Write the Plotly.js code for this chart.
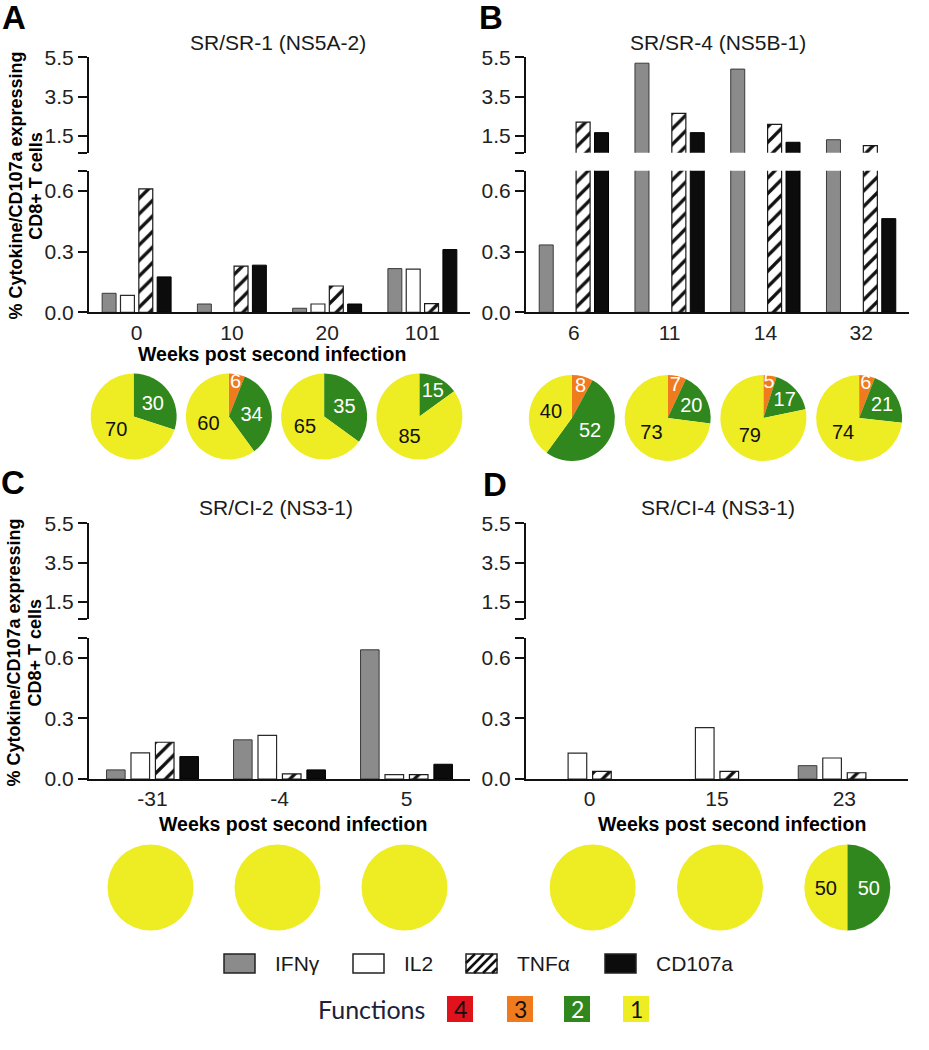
<!DOCTYPE html>
<html>
<head>
<meta charset="utf-8">
<script src="https://cdn.plot.ly/plotly-3.0.1.min.js"></script>
<style>
  body { margin: 0; background: #fff; }
  #chart { width: 929px; height: 1050px; }
</style>
</head>
<body>
<div id="chart"></div>
<script>
// bar series (% of CD8+ T cells), one value per time point
const markers = ["IFNγ", "IL2", "TNFα", "CD107a"];

const weeksA = ["0", "10", "20", "101"];
const ifngA = [0.094, 0.041, 0.020, 0.216];
const il2A = [0.084, 0, 0.041, 0.213];
const tnfaA = [0.61, 0.228, 0.13, 0.043];
const cd107aA = [0.175, 0.233, 0.041, 0.31];

const weeksB = ["6", "11", "14", "32"];
const ifngB = [0.333, 5.2, 4.9, 1.31];
const il2B = [0, 0, 0, 0];
const tnfaB = [2.2, 2.65, 2.09, 1.01];
const cd107aB = [1.67, 1.67, 1.18, 0.463];

const weeksC = ["-31", "-4", "5"];
const ifngC = [0.045, 0.194, 0.64];
const il2C = [0.129, 0.216, 0.022];
const tnfaC = [0.182, 0.025, 0.022];
const cd107aC = [0.111, 0.045, 0.073];

const weeksD = ["0", "15", "23"];
const ifngD = [0, 0, 0.066];
const il2D = [0.128, 0.255, 0.104];
const tnfaD = [0.038, 0.038, 0.031];
const cd107aD = [0, 0, 0];

// pies: % of responding cells with 4 / 3 / 2 / 1 functions
const functions = ["4", "3", "2", "1"];
const pieA = [[0, 0, 30, 70], [0, 6, 34, 60], [0, 0, 35, 65], [0, 0, 15, 85]];
const pieB = [[0, 8, 52, 40], [0, 7, 20, 73], [0, 5, 17, 79], [0, 6, 21, 74]];
const pieC = [[0, 0, 0, 100], [0, 0, 0, 100], [0, 0, 0, 100]];
const pieD = [[0, 0, 0, 100], [0, 0, 0, 100], [0, 0, 50, 50]];

const W = 929, H = 1050;
const fx = p => p / W;
const fy = p => 1 - p / H;
const FONT = "Arial, 'Liberation Sans', sans-serif";

const funcColors = ["#e0121c", "#f07a1e", "#2f871d", "#eeec22"];
const funcText = ["#111", "#fff", "#fff", "#111"];
const funcKeyText = ["#111", "#111", "#fff", "#111"];

const barStyles = [
  { color: "#8b8b8b", line: { color: "#3a3a3a", width: 1 } },
  { color: "#ffffff", line: { color: "#2a2a2a", width: 1.2 } },
  { color: "#ffffff", line: { color: "#1a1a1a", width: 1.2 },
    pattern: { shape: "/", fgcolor: "#111", bgcolor: "#fff", size: 11, solidity: 0.3 } },
  { color: "#0c0c0c", line: { color: "#000", width: 1 } }
];

const panels = [
  { letter: "A", title: "SR/SR-1 (NS5A-2)", weeks: weeksA, series: [ifngA, il2A, tnfaA, cd107aA], pies: pieA,
    x0: 89, x1: 470, top: 57.3, brk1: 152.7, brk2: 170.7, bottom: 312.3,
    titleXY: [278, 42.5], letterXY: [14, 18], pieY: 416.5, pieShift: -3,
    xTitle: [272, 354], yTitle: [15.5, 35.7, 186] },
  { letter: "B", title: "SR/SR-4 (NS5B-1)", weeks: weeksB, series: [ifngB, il2B, tnfaB, cd107aB], pies: pieB,
    x0: 526, x1: 909, top: 57.3, brk1: 152.7, brk2: 170.7, bottom: 312.3,
    titleXY: [718, 42], letterXY: [491, 18], pieY: 418, pieShift: -2 },
  { letter: "C", title: "SR/CI-2 (NS3-1)", weeks: weeksC, series: [ifngC, il2C, tnfaC, cd107aC], pies: pieC,
    x0: 89, x1: 470, top: 523.3, brk1: 618.7, brk2: 637.7, bottom: 779,
    titleXY: [276, 507.5], letterXY: [13, 483], pieY: 887.5, pieShift: -2,
    xTitle: [293, 824], yTitle: [13.5, 34.5, 653] },
  { letter: "D", title: "SR/CI-4 (NS3-1)", weeks: weeksD, series: [ifngD, il2D, tnfaD, cd107aD], pies: pieD,
    x0: 526, x1: 908, top: 523.3, brk1: 618.7, brk2: 637.7, bottom: 779,
    titleXY: [718, 507], letterXY: [495, 484], pieY: 887.5, pieShift: 3,
    xTitle: [732, 824] }
];

const LOW_MAX = 0.7, UP_MIN = 0.65;

const traces = [];
const layout = {
  width: W, height: H,
  margin: { l: 0, r: 0, t: 0, b: 0 },
  paper_bgcolor: "#fff", plot_bgcolor: "rgba(0,0,0,0)",
  font: { family: FONT, color: "#1a1a1a" },
  barmode: "group", bargap: 0.23, bargroupgap: 0.24,
  showlegend: false,
  uniformtext: { mode: "show", minsize: 20 },
  annotations: [], shapes: []
};

const note = (x, y, text, font, extra) => Object.assign({
  xref: "paper", yref: "paper", x: fx(x), y: fy(y), text: text, showarrow: false,
  xanchor: "center", yanchor: "middle", font: font
}, extra || {});

const axisBase = {
  showgrid: false, zeroline: false, fixedrange: true,
  showline: true, linewidth: 2, linecolor: "#111",
  tickfont: { family: FONT, size: 21, color: "#222" }
};

panels.forEach((p, k) => {
  const xn = k + 1, yLo = 2 * k + 1, yUp = 2 * k + 2;
  const xr = xn === 1 ? "x" : "x" + xn;
  const yrLo = yLo === 1 ? "y" : "y" + yLo;
  const yrUp = "y" + yUp;
  const n = p.weeks.length;

  layout[xn === 1 ? "xaxis" : "xaxis" + xn] = Object.assign({}, axisBase, {
    domain: [fx(p.x0), fx(p.x1)], anchor: yrLo, type: "category",
    range: [-0.5, n - 0.5], ticks: "", ticklabelstandoff: 0
  });
  layout[yLo === 1 ? "yaxis" : "yaxis" + yLo] = Object.assign({}, axisBase, {
    domain: [fy(p.bottom), fy(p.brk2)], anchor: xr, range: [0, LOW_MAX],
    tickvals: [0, 0.3, 0.6, LOW_MAX], ticktext: ["0.0", "0.3", "0.6", ""],
    ticks: "outside", ticklen: 9, tickwidth: 2, tickcolor: "#111"
  });
  layout["yaxis" + yUp] = Object.assign({}, axisBase, {
    domain: [fy(p.brk1), fy(p.top)], anchor: xr, range: [UP_MIN, 5.5],
    tickvals: [UP_MIN, 1.5, 3.5, 5.5], ticktext: ["", "1.5", "3.5", "5.5"],
    ticks: "outside", ticklen: 9, tickwidth: 2, tickcolor: "#111"
  });

  // same bars on both halves of the broken axis; absent bars left empty
  p.series.forEach((vals, s) => {
    traces.push({
      type: "bar", name: markers[s], x: p.weeks, y: vals.map(v => v > 0 ? v : null),
      xaxis: xr, yaxis: yrLo, marker: barStyles[s], hoverinfo: "skip"
    });
  });
  p.series.forEach((vals, s) => {
    traces.push({
      type: "bar", name: markers[s], x: p.weeks, y: vals.map(v => v > UP_MIN ? v : null),
      xaxis: xr, yaxis: yrUp, marker: barStyles[s], hoverinfo: "skip"
    });
  });

  // pie row under each time point
  const step = (p.x1 - p.x0) / n, r = 43;
  p.pies.forEach((vals, i) => {
    const cx = p.x0 + (i + 0.5) * step + p.pieShift;
    traces.push({
      type: "pie", values: vals, labels: functions, sort: false,
      direction: "clockwise", rotation: 0,
      marker: { colors: funcColors, line: { width: 0 } },
      text: vals.map(v => (v > 0 && v < 100) ? String(v) : ""),
      textinfo: "text", textposition: "inside",
      insidetextorientation: "horizontal",
      insidetextfont: { family: FONT, size: 20, color: funcText },
      domain: { x: [fx(cx - r), fx(cx + r)], y: [fy(p.pieY + r), fy(p.pieY - r)] },
      hoverinfo: "skip"
    });
  });

  const ann = layout.annotations;
  ann.push(note(p.titleXY[0], p.titleXY[1], p.title, { size: 21, color: "#1a1a1a" }));
  ann.push(note(p.letterXY[0], p.letterXY[1], "<b>" + p.letter + "</b>", { size: 33, color: "#000" }));
  if (p.xTitle) {
    ann.push(note(p.xTitle[0], p.xTitle[1], "<b>Weeks post second infection</b>", { size: 19.5, color: "#000" }));
  }
  if (p.yTitle) {
    ann.push(note(p.yTitle[0], p.yTitle[2], "<b>% Cytokine/CD107a expressing</b>", { size: 18, color: "#000" }, { textangle: -90 }));
    ann.push(note(p.yTitle[1], p.yTitle[2], "<b>CD8+ T cells</b>", { size: 18, color: "#000" }, { textangle: -90 }));
  }
});

// legend row 1: bar keys
const keyX = [224, 353, 466, 605];
const keyW = 31, keyTop = 954, keyBot = 973;
keyX.forEach((x0, s) => {
  const st = barStyles[s];
  layout.shapes.push({ type: "rect", xref: "paper", yref: "paper",
    x0: fx(x0), x1: fx(x0 + keyW), y0: fy(keyBot), y1: fy(keyTop),
    fillcolor: st.color, line: { color: "#222", width: 1.5 } });
  if (st.pattern) {
    let d = "";
    const h = keyBot - keyTop;
    for (let t = -h; t < keyW; t += 9) {
      const s0 = Math.max(0, -t), s1 = Math.min(h, keyW - t);
      if (s1 <= s0) continue;
      d += `M${fx(x0 + t + s0)},${fy(keyBot - s0)} L${fx(x0 + t + s1)},${fy(keyBot - s1)} `;
    }
    layout.shapes.push({ type: "path", xref: "paper", yref: "paper", path: d,
      line: { color: "#111", width: 2.5 } });
  }
  layout.annotations.push(note(x0 + keyW + 18, (keyTop + keyBot) / 2, markers[s],
    { size: 21, color: "#1a1a1a" }, { xanchor: "left" }));
});

// legend row 2: function colours
layout.annotations.push(note(427, 1008.5, "Functions",
  { family: "Lato, sans-serif", size: 25, color: "#20203a" }, { xanchor: "right" }));
const funcX = [447, 507, 564, 623];
funcX.forEach((x0, i) => {
  layout.shapes.push({ type: "rect", xref: "paper", yref: "paper",
    x0: fx(x0), x1: fx(x0 + 26), y0: fy(1022), y1: fy(996),
    fillcolor: funcColors[i], line: { width: 0 } });
  layout.annotations.push(note(x0 + 13, 1009, functions[i],
    { family: "Lato, sans-serif", size: 23, color: funcKeyText[i] }));
});

Plotly.newPlot("chart", traces, layout, { staticPlot: true });
</script>
</body>
</html>
